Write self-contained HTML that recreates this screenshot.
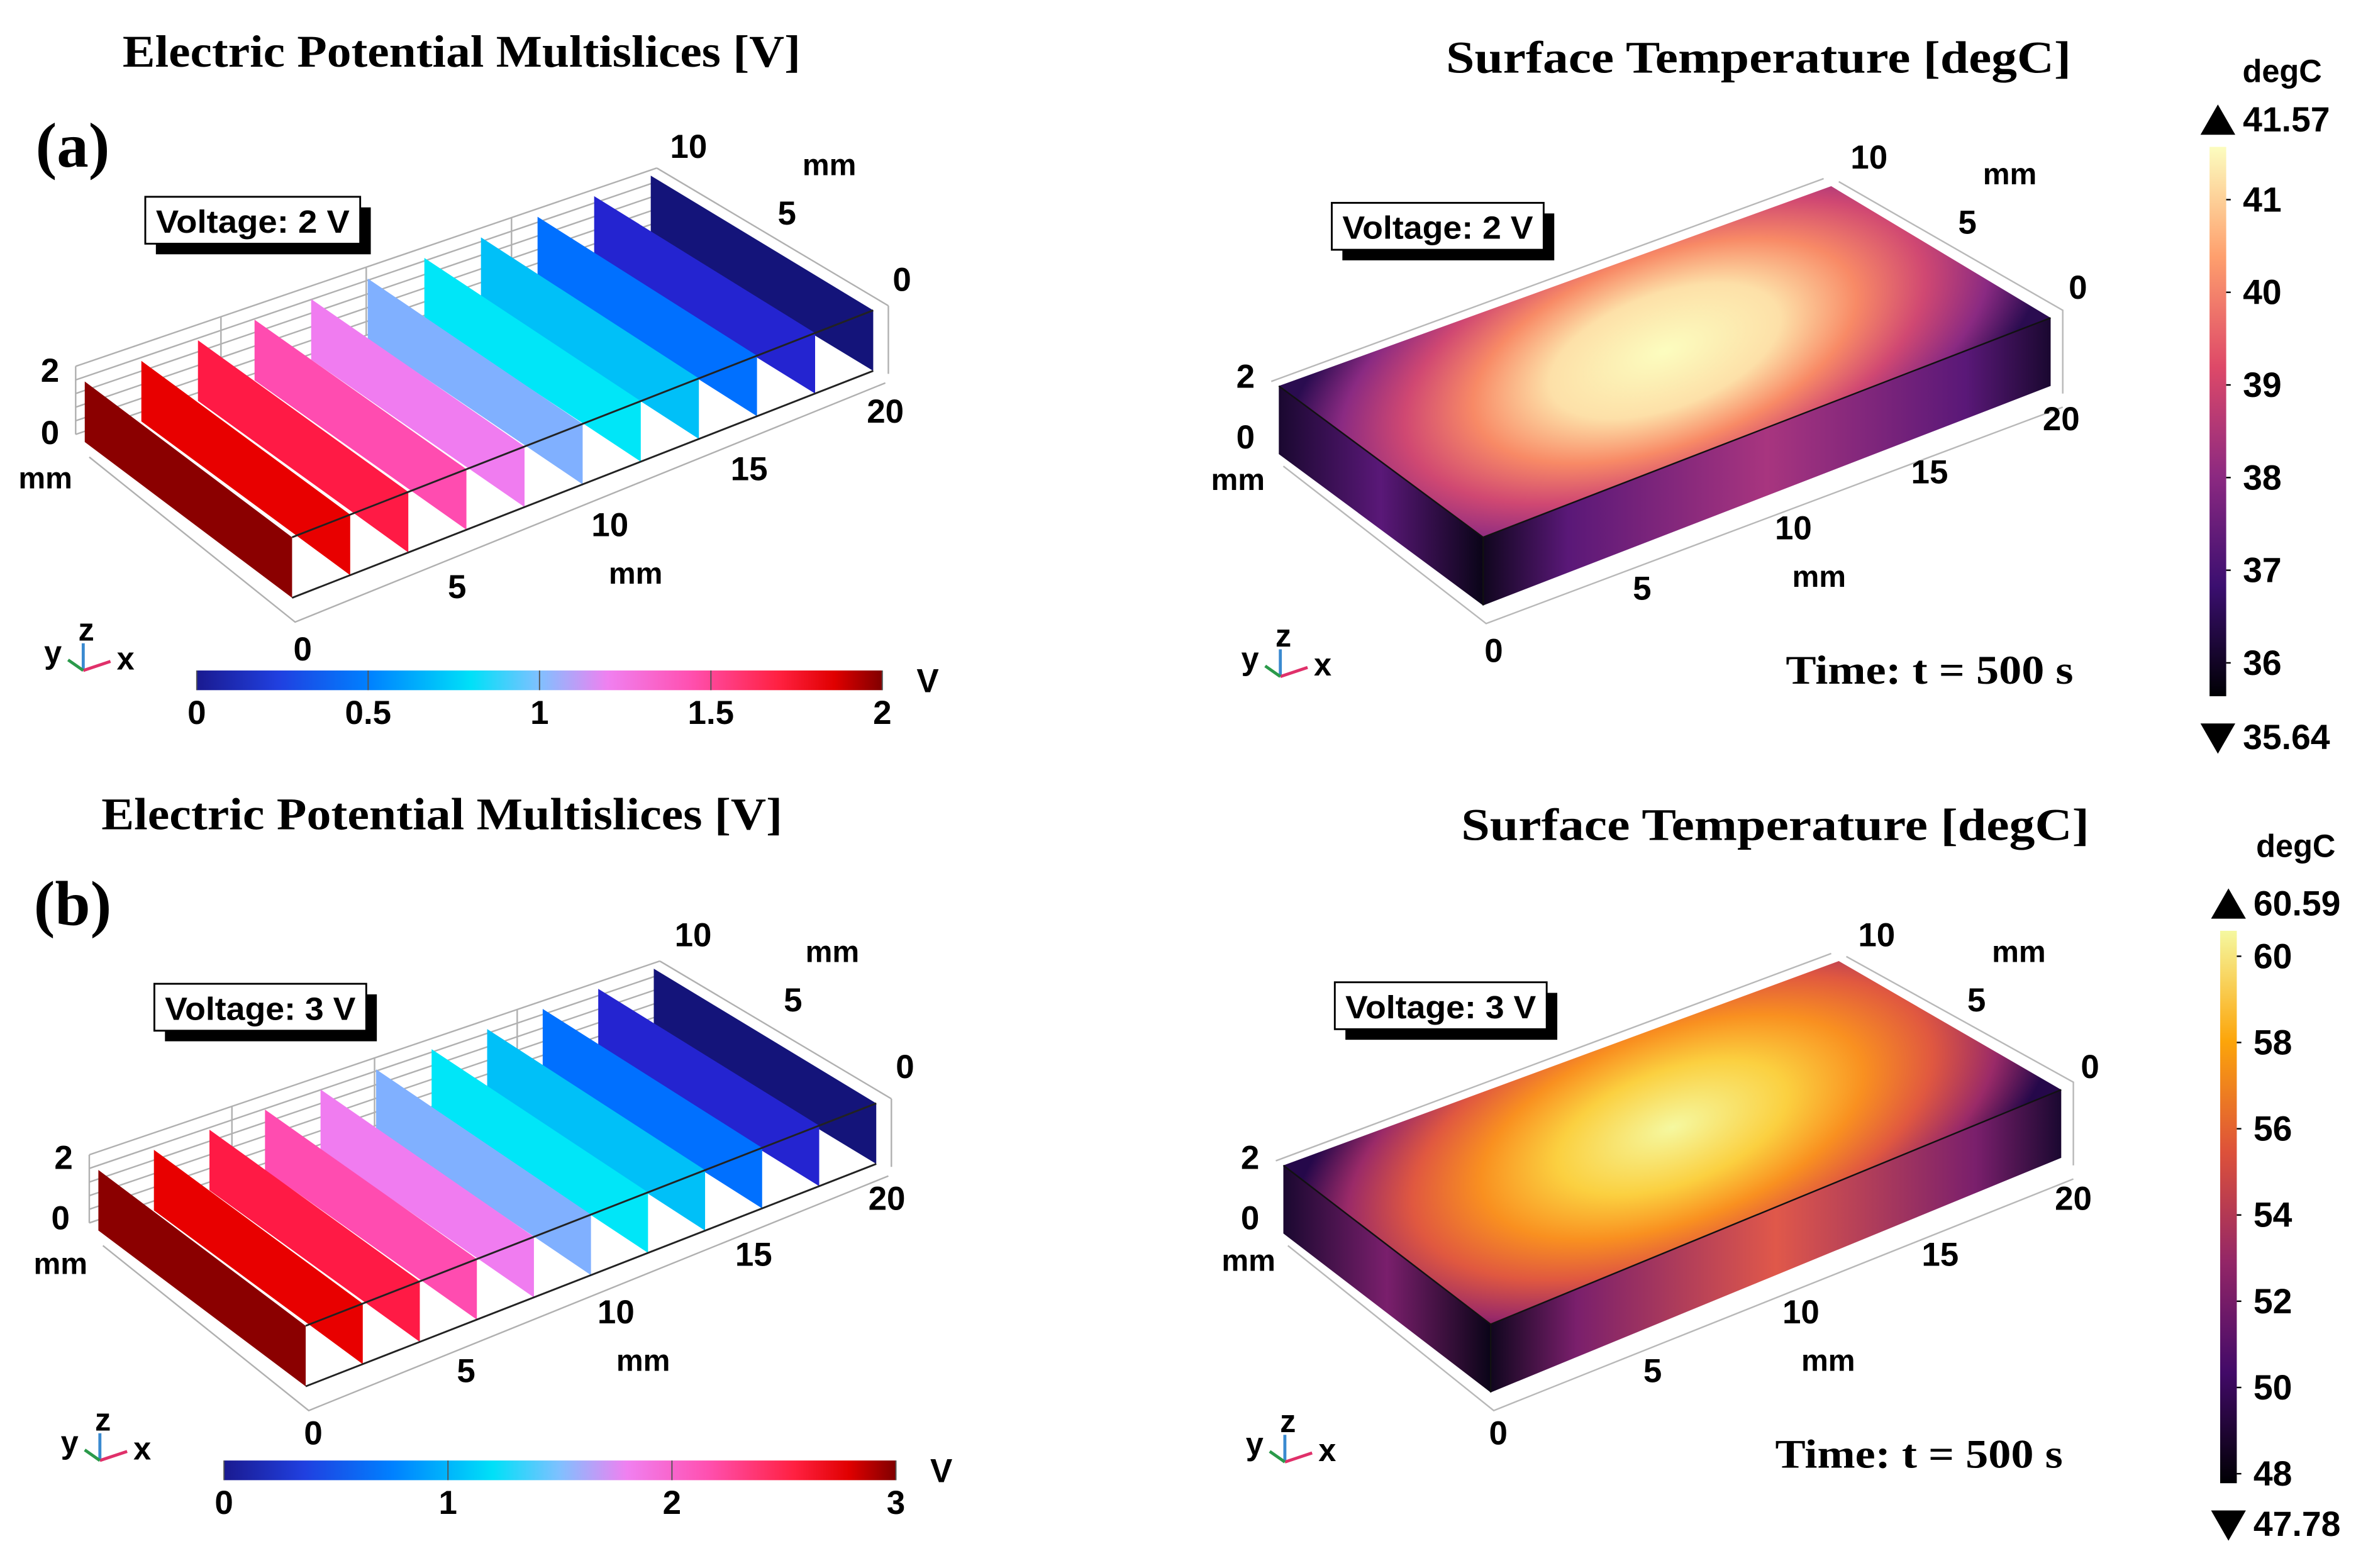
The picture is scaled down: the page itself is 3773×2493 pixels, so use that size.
<!DOCTYPE html>
<html><head><meta charset="utf-8">
<style>
html,body{margin:0;padding:0;background:#fff;}
svg{display:block;}
text{font-family:"Liberation Sans",Arial,sans-serif;font-weight:bold;fill:#000;}
.serif{font-family:"Liberation Serif","Times New Roman",serif;font-weight:bold;}
</style></head>
<body>
<svg id="fig" xmlns="http://www.w3.org/2000/svg" width="3773" height="2493" viewBox="0 0 1568 1036">
<defs>
  <linearGradient id="vcbA" x1="0" x2="1" y1="0" y2="0">
    <stop offset="0" stop-color="#1a1a90"/><stop offset="0.12" stop-color="#2040e0"/><stop offset="0.25" stop-color="#0080ff"/>
    <stop offset="0.4" stop-color="#00e0f8"/><stop offset="0.5" stop-color="#80c0ff"/><stop offset="0.6" stop-color="#f080f0"/>
    <stop offset="0.72" stop-color="#ff50b0"/><stop offset="0.85" stop-color="#ff2040"/><stop offset="0.93" stop-color="#e00000"/><stop offset="1" stop-color="#800000"/>
  </linearGradient>
  <linearGradient id="magmaV" x1="0" x2="0" y1="1" y2="0">
    <stop offset="0" stop-color="#000004"/><stop offset="0.2" stop-color="#3b0f70"/><stop offset="0.4" stop-color="#8c2981"/>
    <stop offset="0.6" stop-color="#de4968"/><stop offset="0.8" stop-color="#fe9f6d"/><stop offset="1" stop-color="#fcfdbf"/>
  </linearGradient>
  <linearGradient id="infernoV" x1="0" x2="0" y1="1" y2="0">
    <stop offset="0" stop-color="#000004"/><stop offset="0.2" stop-color="#420a68"/><stop offset="0.4" stop-color="#932667"/>
    <stop offset="0.6" stop-color="#dd513a"/><stop offset="0.8" stop-color="#fca50a"/><stop offset="1" stop-color="#f5f8a0"/>
  </linearGradient>
  <radialGradient id="topA" gradientUnits="userSpaceOnUse" cx="0" cy="0" r="1" gradientTransform="translate(1100,232) rotate(-20) scale(265,125)">
    <stop offset="0" stop-color="#fcfdbf"/><stop offset="0.3" stop-color="#fde0a8"/><stop offset="0.5" stop-color="#f88a66"/>
    <stop offset="0.68" stop-color="#d04872"/><stop offset="0.85" stop-color="#8a2a82"/><stop offset="1" stop-color="#2a0c50"/>
  </radialGradient>
  <radialGradient id="topB" gradientUnits="userSpaceOnUse" cx="0" cy="0" r="1" gradientTransform="translate(1105,745) rotate(-20) scale(265,125)">
    <stop offset="0" stop-color="#f5f8a0"/><stop offset="0.3" stop-color="#fbd040"/><stop offset="0.5" stop-color="#f99020"/>
    <stop offset="0.68" stop-color="#e05840"/><stop offset="0.85" stop-color="#9a2a68"/><stop offset="1" stop-color="#25084a"/>
  </radialGradient>
  <linearGradient id="sideA" gradientUnits="userSpaceOnUse" x1="980" x2="1355" y1="0" y2="0">
    <stop offset="0" stop-color="#10061e"/><stop offset="0.15" stop-color="#5a1878"/><stop offset="0.5" stop-color="#a8357f"/>
    <stop offset="0.85" stop-color="#5a1878"/><stop offset="1" stop-color="#1a0830"/>
  </linearGradient>
  <linearGradient id="sideB" gradientUnits="userSpaceOnUse" x1="985" x2="1362" y1="0" y2="0">
    <stop offset="0" stop-color="#10061e"/><stop offset="0.15" stop-color="#7a1f6c"/><stop offset="0.5" stop-color="#e0584a"/>
    <stop offset="0.85" stop-color="#7a1f6c"/><stop offset="1" stop-color="#1a0830"/>
  </linearGradient>
  <linearGradient id="leftA" gradientUnits="userSpaceOnUse" x1="845" x2="980" y1="0" y2="0">
    <stop offset="0" stop-color="#1a0830"/><stop offset="0.5" stop-color="#5a1878"/><stop offset="1" stop-color="#0a0418"/>
  </linearGradient>
  <linearGradient id="leftB" gradientUnits="userSpaceOnUse" x1="848" x2="985" y1="0" y2="0">
    <stop offset="0" stop-color="#1a0830"/><stop offset="0.5" stop-color="#7a1f6c"/><stop offset="1" stop-color="#0a0418"/>
  </linearGradient>
</defs>
<g id="root"></g>
</svg>
<script>
// ---- data ----
const sliceVoltsA = [2,1.8,1.6,1.4,1.2,1.0,0.8,0.6,0.4,0.2,0];
const sliceVoltsB = [3,2.7,2.4,2.1,1.8,1.5,1.2,0.9,0.6,0.3,0];
const vTicksA = [0,0.5,1,1.5,2];
const vTickLabelsA = ["0","0.5","1","1.5","2"];
const vTicksB = [0,1,2,3];
const vTickLabelsB = ["0","1","2","3"];
const tTicksA = [36,37,38,39,40,41];
const tRangeA = [35.64,41.57];
const tTicksB = [48,50,52,54,56,58,60];
const tRangeB = [47.78,60.59];

const NS="http://www.w3.org/2000/svg";
const root=document.getElementById('root');
function mk(tag,attrs,parent){const e=document.createElementNS(NS,tag);for(const k in attrs)e.setAttribute(k,attrs[k]);(parent||root).appendChild(e);return e;}
function txt(s,x,y,size,cls,anchor,parent,len){const t=mk('text',{x:x,y:y,'font-size':size,'text-anchor':anchor||'middle','dominant-baseline':'central'},parent);if(cls)t.setAttribute('class',cls);if(len){t.setAttribute('textLength',len);t.setAttribute('lengthAdjust','spacingAndGlyphs');}t.textContent=s;return t;}

const cmap=[[0,"#14147a"],[0.1,"#2424d0"],[0.2,"#0070ff"],[0.3,"#00c0f8"],[0.4,"#00e6f8"],[0.5,"#80b0ff"],[0.6,"#f07cf0"],[0.7,"#ff4cb0"],[0.8,"#ff1a45"],[0.9,"#e80000"],[1,"#8b0000"]];
function hex(c){return [parseInt(c.slice(1,3),16),parseInt(c.slice(3,5),16),parseInt(c.slice(5,7),16)];}
function colorAt(t){t=Math.max(0,Math.min(1,t));for(let i=1;i<cmap.length;i++){if(t<=cmap[i][0]){const a=cmap[i-1],b=cmap[i];const f=(t-a[0])/(b[0]-a[0]);const A=hex(a[1]),B=hex(b[1]);return 'rgb('+A.map((v,j)=>Math.round(v+(B[j]-v)*f)).join(',')+')';}}return cmap[cmap.length-1][1];}

// ---- slices panel ----
function slicePanel(g,vals,vmax,p0,pN,w0,wN,d0,dN,h){
  const n=vals.length, dx=(pN[0]-p0[0])/(n-1), dy=(pN[1]-p0[1])/(n-1);
  const W=i=>w0+(wN-w0)*i/(n-1), D=i=>d0+(dN-d0)*i/(n-1);
  const fr=mk('g',{stroke:'#b0b0b0','stroke-width':1,fill:'none'},g);
  
  
  const bl=[p0[0]-6,p0[1]-10], br=[pN[0]+4,pN[1]-5];
  mk('line',{x1:bl[0],y1:bl[1],x2:br[0],y2:br[1]},fr);
  mk('line',{x1:bl[0],y1:bl[1]+45,x2:br[0],y2:br[1]+45},fr);
  mk('line',{x1:bl[0],y1:bl[1],x2:bl[0],y2:bl[1]+45},fr);
  mk('line',{x1:br[0],y1:br[1],x2:pN[0]+wN+10,y2:pN[1]+dN-3},fr);
  mk('line',{x1:pN[0]+wN+10,y1:pN[1]+dN-3,x2:pN[0]+wN+10,y2:pN[1]+dN+42},fr);
  for(let k=1;k<5;k++){mk('line',{x1:bl[0],y1:bl[1]+k*9,x2:br[0],y2:br[1]+k*9},fr);}
  for(let k=1;k<4;k++){const x=bl[0]+(br[0]-bl[0])*k/4,y=bl[1]+(br[1]-bl[1])*k/4;mk('line',{x1:x,y1:y,x2:x,y2:y+45},fr);}
  mk('polyline',{points:[p0[0]+3,p0[1]+h+10,p0[0]+w0+2,p0[1]+d0+h+16,pN[0]+wN+8,pN[1]+dN+h+8].join(' ')},fr);
  for(let i=n-1;i>=0;i--){
    const x=p0[0]+dx*i,y=p0[1]+dy*i,w=W(i),d=D(i);
    const p=mk('polygon',{points:[x,y,x+w,y+d,x+w,y+d+h,x,y+h].join(' '),fill:colorAt(vals[i]/vmax)},g);
    
    
  }
  const e=mk('g',{stroke:'#222','stroke-width':1.2,fill:'none'},g);
  mk('line',{x1:p0[0]+w0,y1:p0[1]+d0,x2:pN[0]+wN,y2:pN[1]+dN},e);
  mk('line',{x1:p0[0]+w0,y1:p0[1]+d0+h,x2:pN[0]+wN,y2:pN[1]+dN+h},e);
}

function tempBox(g,top,d,topFill,sideFill,leftFill){
  const [L,B,R,F]=top;
  const l=mk('polygon',{points:[L[0],L[1],F[0],F[1],F[0],F[1]+d,L[0],L[1]+d].join(' '),fill:leftFill},g);
  
  const s=mk('polygon',{points:[F[0],F[1],R[0],R[1],R[0],R[1]+d,F[0],F[1]+d].join(' '),fill:sideFill},g);
  
  const t=mk('polygon',{points:[L,B,R,F].map(p=>p.join(',')).join(' '),fill:topFill},g);
  
  const e=mk('g',{stroke:'#111','stroke-width':1,fill:'none'},g);
  mk('line',{x1:L[0],y1:L[1],x2:F[0],y2:F[1]},e);mk('line',{x1:F[0],y1:F[1],x2:R[0],y2:R[1]},e);mk('line',{x1:F[0],y1:F[1],x2:F[0],y2:F[1]+d},e);
  const fr=mk('g',{stroke:'#b8b8b8','stroke-width':1,fill:'none'},g);
  mk('polyline',{points:[L[0]-5,L[1]-3,B[0]-5,B[1]-5].join(' ')},fr);
  mk('polyline',{points:[B[0]+5,B[1]-3,R[0]+8,R[1]-5,R[0]+8,R[1]+d+5].join(' ')},fr);
  mk('polyline',{points:[L[0]+3,L[1]+d+8,F[0]+2,F[1]+d+12,R[0]+8,R[1]+d+14].join(' ')},fr);
}

function labels(g,list){list.forEach(a=>{txt(a[0],a[1],a[2],a[3]||22,null,'middle',g);});}

function voltBox(g,label,x,y,w,h){
  mk('rect',{x:x+7,y:y+7,width:w,height:h,fill:'#000'},g);
  mk('rect',{x:x,y:y,width:w,height:h,fill:'#fff',stroke:'#000','stroke-width':1.2},g);
  const t=txt(label,x+w/2,y+h/2+1,21,null,'middle',g,w-14);
  
}

function triad(g,x,y){
  mk('line',{x1:x,y1:y,x2:x,y2:y-18,stroke:'#3a8ad0','stroke-width':2},g);
  mk('line',{x1:x,y1:y,x2:x+18,y2:y-6,stroke:'#e0306a','stroke-width':2},g);
  mk('line',{x1:x,y1:y,x2:x-10,y2:y-7,stroke:'#2a9a4a','stroke-width':2},g);
  txt('y',x-20,y-12,21,null,'middle',g);txt('z',x+2,y-27,21,null,'middle',g);txt('x',x+28,y-8,21,null,'middle',g);
}

function hbar(g,x0,x1,y,ticks,labs,vmax){
  mk('rect',{x:x0,y:y,width:x1-x0,height:13,fill:'url(#vcbA)'},g);
  ticks.forEach((v,i)=>{const x=x0+(x1-x0)*v/vmax;mk('line',{x1:x,y1:y,x2:x,y2:y+13,stroke:'#555','stroke-width':0.8},g);
    const t=txt(labs[i],x,y+28,22,null,'middle',g);});
  txt('V',x1+30,y+7,22,null,'middle',g);
}

function vbar(g,x,y0,y1,grad,ticks,range){
  mk('rect',{x:x,y:y0,width:11,height:y1-y0,fill:grad},g);
  const Y=v=>y1-(v-range[0])/(range[1]-range[0])*(y1-y0);
  ticks.forEach(v=>{const y=Y(v);mk('line',{x1:x+11,y1:y,x2:x+14,y2:y,stroke:'#000'},g);
    const t=txt(String(v),x+22,y,23,null,'start',g);});
  mk('polygon',{points:[x-6,y0-8,x+17,y0-8,x+5.5,y0-28].join(' '),fill:'#000'},g);
  txt(range[1].toFixed(2),x+22,y0-18,23,null,'start',g);
  mk('polygon',{points:[x-6,y1+18,x+17,y1+18,x+5.5,y1+38].join(' '),fill:'#000'},g);
  txt(range[0].toFixed(2),x+22,y1+27,23,null,'start',g);
}

// ===== Panel (a) =====
const gA=mk('g',{});
txt('Electric Potential Multislices [V]',305,34,30,'serif','middle',gA,448);
txt('Surface Temperature [degC]',1162,38,30,'serif','middle',gA,413);
txt('(a)',48,96,42,'serif','middle',gA);
slicePanel(gA,sliceVoltsA,2,[56,252],[430,116],137,147,103,89,40);
labels(gA,[['10',455,97],['mm',548,109,20],['5',520,141],['0',596,185],['20',585,272],['15',495,310],['10',403,347],['mm',420,379,20],['5',302,388],['0',200,429],['2',33,245],['0',33,286],['mm',30,316,20]]);
voltBox(gA,'Voltage: 2 V',96,130,142,31);
triad(gA,55,443);
hbar(gA,130,583,443,vTicksA,vTickLabelsA,2);
tempBox(gA,[[845,255],[1210,123],[1355,210],[980,355]],45,'url(#topA)','url(#sideA)','url(#leftA)');
labels(gA,[['10',1235,104],['mm',1328,115,20],['5',1300,147],['0',1373,190],['20',1362,277],['15',1275,312],['10',1185,349],['mm',1202,381,20],['5',1085,389],['0',987,430],['2',823,249],['0',823,289],['mm',818,317,20]]);
voltBox(gA,'Voltage: 2 V',880,134,140,31);
triad(gA,846,447);
txt('Time: t = 500 s',1275,443,27,'serif','middle',gA,190);
txt('degC',1508,47,21,null,'middle',gA);
vbar(gA,1460,97,460,'url(#magmaV)',tTicksA,tRangeA);

// ===== Panel (b) =====
const gB=mk('g',{});
txt('Electric Potential Multislices [V]',292,538,30,'serif','middle',gB,450);
txt('Surface Temperature [degC]',1173,545,30,'serif','middle',gB,415);
txt('(b)',48,597,42,'serif','middle',gB);
slicePanel(gB,sliceVoltsB,3,[65,773],[432,640],137,147,103,89,40);
labels(gB,[['10',458,618],['mm',550,629,20],['5',524,661],['0',598,705],['20',586,792],['15',498,829],['10',407,867],['mm',425,899,20],['5',308,906],['0',207,947],['2',42,765],['0',40,805],['mm',40,835,20]]);
voltBox(gB,'Voltage: 3 V',102,650,140,31);
triad(gB,66,965);
hbar(gB,148,592,965,vTicksB,vTickLabelsB,3);
tempBox(gB,[[848,770],[1215,635],[1362,720],[985,875]],45,'url(#topB)','url(#sideB)','url(#leftB)');
labels(gB,[['10',1240,618],['mm',1334,629,20],['5',1306,661],['0',1381,705],['20',1370,792],['15',1282,829],['10',1190,867],['mm',1208,899,20],['5',1092,906],['0',990,947],['2',826,765],['0',826,805],['mm',825,833,20]]);
voltBox(gB,'Voltage: 3 V',882,649,140,31);
triad(gB,849,966);
txt('Time: t = 500 s',1268,961,27,'serif','middle',gB,190);
txt('degC',1517,559,21,null,'middle',gB);
vbar(gB,1467,615,980,'url(#infernoV)',tTicksB,tRangeB);
</script>
</body></html>
